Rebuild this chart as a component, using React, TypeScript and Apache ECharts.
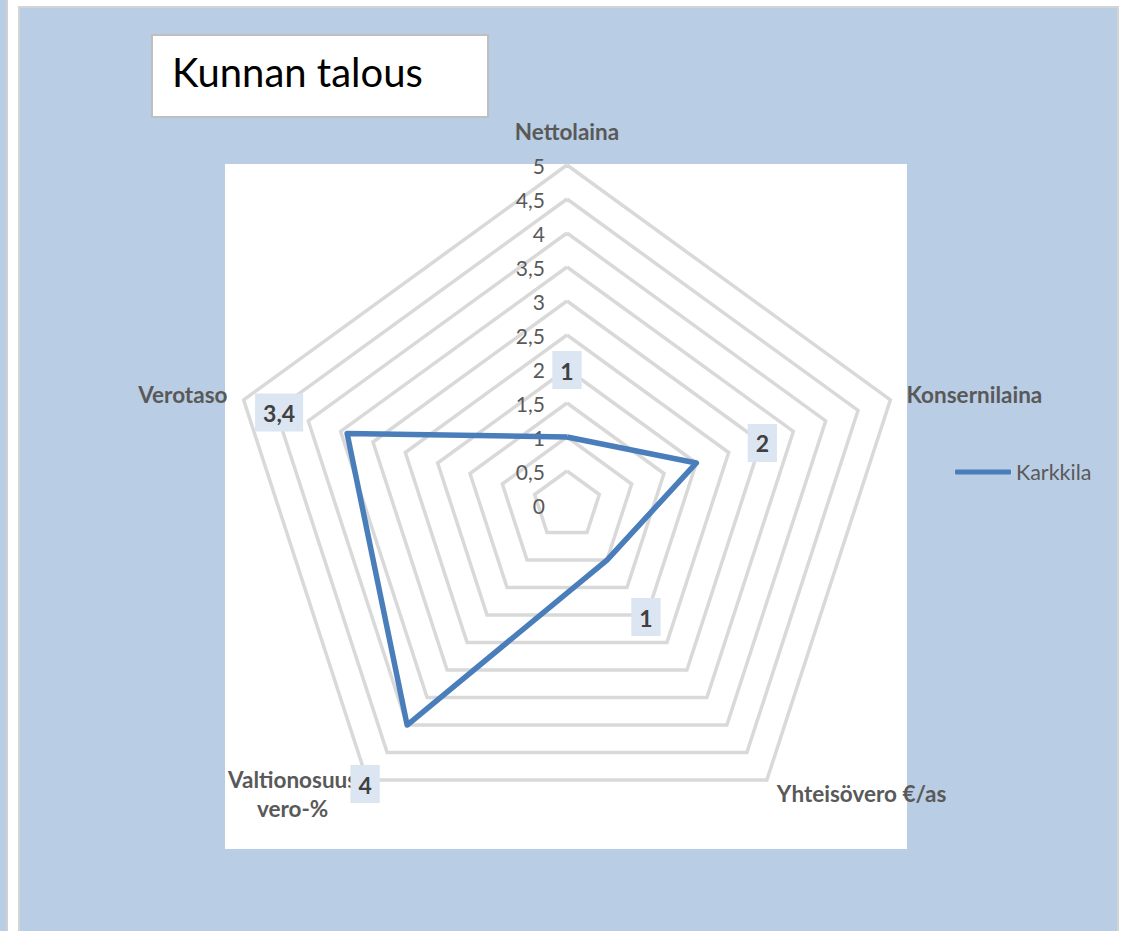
import React, { useEffect, useRef } from 'react';
import * as echarts from 'echarts';

const chartTitle = 'Kunnan talous';
const indicatorNames = ['Nettolaina', 'Konsernilaina', 'Yhteisövero €/as', 'Valtionosuus\nvero-%', 'Verotaso'];
const seriesName = 'Karkkila';
const karkkilaValues = [1, 2, 1, 4, 3.4];
const axisMin = 0;
const axisMax = 5;
const axisSplits = 10;

// ECharts lays radar indicators out counter-clockwise; the reference runs clockwise.
const displayOrder = [0, 4, 3, 2, 1];

// label placement (style only): offset of each data label from its point
const labelOffsets: [number, number][] = [[0, -67], [66, -20], [39, 57], [-42, 59], [-68, -21]];

const fmt = (v: number) => String(v).replace('.', ',');

export default function App() {
  const ref = useRef<HTMLDivElement>(null);
  useEffect(() => {
    const chart = echarts.init(ref.current!, null, { renderer: 'svg' });
    const FONT = 'Lato, "Open Sans", sans-serif';
    const grey = '#595959';
    const bgBlue = '#B9CDE5';
    const lineBlue = '#4A7EBB';
    const NAME_SIZE = 22.5;

    const shownNames = displayOrder.map((i) => indicatorNames[i]);
    const shownValues = displayOrder.map((i) => karkkilaValues[i]);

    const labelSeries = karkkilaValues.map((_, k) => {
      const pos = displayOrder.indexOf(k);
      return {
        type: 'radar',
        name: 'lbl' + k,
        silent: true,
        z: 5,
        symbol: 'circle',
        symbolSize: 1,
        itemStyle: { color: 'rgba(0,0,0,0)' },
        lineStyle: { width: 0, opacity: 0 },
        label: {
          show: true,
          position: 'inside',
          offset: labelOffsets[k],
          formatter: (p: any) => (p.dimensionIndex === pos ? `{b|${fmt(p.value)}}` : ''),
          rich: {
            b: {
              fontFamily: FONT,
              fontSize: 23,
              fontWeight: 'bold',
              color: '#404040',
              backgroundColor: '#DCE6F2',
              padding: [8, 8, 7, 8],
              lineHeight: 26,
            },
          },
        },
        data: [{ value: shownValues, name: 'lbl' + k }],
      };
    });

    chart.setOption({
      animation: false,
      backgroundColor: '#ffffff',
      title: {
        text: chartTitle,
        left: 172,
        top: 49,
        padding: 0,
        textStyle: { fontFamily: FONT, fontSize: 40, fontWeight: 'normal', color: '#000000', lineHeight: 46 },
      },
      legend: {
        data: [seriesName],
        left: 955,
        top: 461,
        padding: 0,
        icon: 'roundRect',
        itemWidth: 56,
        itemHeight: 5,
        textStyle: { fontFamily: FONT, fontSize: 21.5, color: grey },
      },
      graphic: [
        { type: 'rect', z: -100, shape: { x: 0, y: 0, width: 6, height: 931 }, style: { fill: bgBlue } },
        { type: 'rect', z: -100, shape: { x: 6, y: 0, width: 2, height: 931 }, style: { fill: '#D0D0D0' } },
        {
          type: 'rect', z: -100,
          shape: { x: 19, y: 7, width: 1099, height: 940 },
          style: { fill: bgBlue, stroke: '#D4D4D4', lineWidth: 2 },
        },
        { type: 'rect', z: -90, shape: { x: 225, y: 164, width: 682, height: 685 }, style: { fill: '#ffffff' } },
        {
          type: 'rect', z: -90,
          shape: { x: 152, y: 35, width: 336, height: 82 },
          style: { fill: '#ffffff', stroke: '#BFBFBF', lineWidth: 2 },
        },
      ],
      radar: {
        center: [567, 505],
        radius: 340,
        startAngle: 90,
        shape: 'polygon',
        splitNumber: axisSplits,
        nameGap: 17,
        indicator: shownNames.map((name, i) => ({
          name,
          min: axisMin,
          max: axisMax,
          ...(i === 0 ? { axisLabel: { show: true } } : {}),
        })),
        axisName: {
          color: grey,
          fontFamily: FONT,
          fontSize: NAME_SIZE,
          fontWeight: 'bold',
          formatter: (name: string) => {
            if (name === indicatorNames[0]) return `{t|${name}}`;
            if (name.indexOf('\n') >= 0) return name.split('\n').map((s) => `{c|${s}}`).join('\n');
            return `{n|${name}}`;
          },
          rich: {
            t: { fontFamily: FONT, fontSize: NAME_SIZE, fontWeight: 'bold', color: grey, padding: [0, 0, 5, 0] },
            c: { fontFamily: FONT, fontSize: NAME_SIZE, fontWeight: 'bold', color: grey, align: 'center', lineHeight: 29 },
            n: { fontFamily: FONT, fontSize: NAME_SIZE, fontWeight: 'bold', color: grey },
          },
        },
        axisLine: { show: false },
        axisTick: { show: false },
        axisLabel: {
          show: false,
          color: grey,
          fontFamily: FONT,
          fontSize: 21,
          margin: 22,
          formatter: (v: number) => fmt(v),
        },
        splitLine: { lineStyle: { color: '#D9D9D9', width: 3.5 } },
        splitArea: { show: false },
      },
      series: [
        {
          type: 'radar',
          name: seriesName,
          z: 3,
          symbol: 'circle',
          symbolSize: 1,
          itemStyle: { color: lineBlue },
          lineStyle: { color: lineBlue, width: 5.5 },
          data: [{ value: shownValues, name: seriesName }],
        },
        ...labelSeries,
      ],
    });
    return () => chart.dispose();
  }, []);
  return <div ref={ref} style={{ position: 'fixed', left: 0, top: 0, width: 1127, height: 931 }} />;
}
